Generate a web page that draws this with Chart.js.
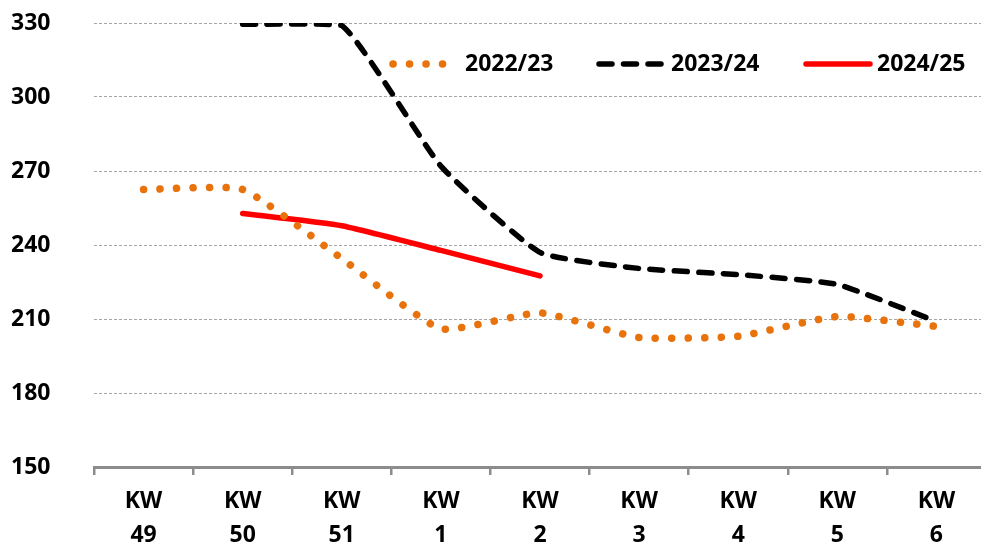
<!DOCTYPE html>
<html>
<head>
<meta charset="utf-8">
<script src="https://cdn.jsdelivr.net/npm/chart.js@4.4.1/dist/chart.umd.min.js"></script>
<style>
  html, body { margin: 0; padding: 0; background: #fff; overflow: hidden; }
  #wrap { width: 990px; height: 547px; }
</style>
</head>
<body>
<div id="wrap"><canvas id="grafica"></canvas></div>
<script>
// Kategorien (Kalenderwochen)
const wochen = [['KW', '49'], ['KW', '50'], ['KW', '51'], ['KW', '1'], ['KW', '2'], ['KW', '3'], ['KW', '4'], ['KW', '5'], ['KW', '6']];

// Werte je Saison
const saison2223 = [262.5, 262.5, 234.5, 206, 212.5, 202.5, 203, 211, 207];
const saison2324 = [null, 329.5, 329, 272, 237, 230.5, 228, 224, 209];
const saison2425 = [null, 252.8, 247.8, 237.8, 227.5, null, null, null, null];

const serien = ['2022/23', '2023/24', '2024/25'];
const yTicks = [150, 180, 210, 240, 270, 300, 330];

const schrift = "'Noto Sans', sans-serif";

// Legende direkt in die Zeichenflaeche malen
const legendePlugin = {
  id: 'legende',
  afterDatasetsDraw(chart) {
    const ctx = chart.ctx;
    const y = 64;
    const pos = [
      { x1: 393, x2: 443, tx: 465 },
      { x1: 599, x2: 664, tx: 671 },
      { x1: 806, x2: 870, tx: 877 }
    ];
    chart.data.datasets.forEach((ds, i) => {
      const p = pos[i];
      ctx.save();
      ctx.strokeStyle = ds.borderColor;
      ctx.lineWidth = ds.borderWidth;
      ctx.lineCap = 'round';
      ctx.setLineDash(ds.borderDash || []);
      ctx.beginPath();
      ctx.moveTo(p.x1, y);
      ctx.lineTo(p.x2, y);
      ctx.stroke();
      ctx.setLineDash([]);
      ctx.fillStyle = '#000';
      ctx.font = 'bold 23px ' + schrift;
      ctx.textBaseline = 'middle';
      ctx.textAlign = 'left';
      ctx.fillText(ds.label, p.tx, y);
      ctx.restore();
    });
  }
};

const ctx = document.getElementById('grafica');
new Chart(ctx, {
  type: 'line',
  data: {
    labels: wochen,
    datasets: [
      {
        label: serien[0],
        data: saison2223,
        borderColor: '#E8720C',
        borderWidth: 7.5,
        borderDash: [0.1, 16.4],
        borderCapStyle: 'round',
        tension: 0.15
      },
      {
        label: serien[1],
        data: saison2324,
        borderColor: '#000000',
        borderWidth: 5.5,
        borderDash: [13, 11.5],
        borderCapStyle: 'round',
        tension: 0.15
      },
      {
        label: serien[2],
        data: saison2425,
        borderColor: '#FF0000',
        borderWidth: 5.5,
        borderCapStyle: 'round',
        tension: 0.15
      }
    ]
  },
  options: {
    responsive: true,
    maintainAspectRatio: false,
    animation: false,
    layout: { padding: { left: 11, right: 4, top: 23, bottom: 0 } },
    elements: { point: { radius: 0 } },
    plugins: {
      legend: { display: false },
      tooltip: { enabled: false }
    },
    scales: {
      x: {
        offset: true,
        grid: {
          offset: true,
          drawOnChartArea: false,
          drawTicks: true,
          tickLength: 8,
          color: '#8c8c8c',
          lineWidth: 2.5
        },
        border: { display: true, color: '#8c8c8c', width: 3 },
        ticks: {
          color: '#000',
          padding: 9,
          maxRotation: 0,
          autoSkip: false,
          font: { family: schrift, size: 23, weight: 'bold', lineHeight: 1.5 }
        },
        afterFit(s) { s.height = 80; }
      },
      y: {
        min: 150,
        max: 330,
        afterBuildTicks(s) { s.ticks = yTicks.map(v => ({ value: v })); },
        grid: {
          drawTicks: false,
          color: '#a6a6a6',
          lineWidth: 1
        },
        border: { display: false, dash: [3, 2] },
        ticks: {
          color: '#000',
          padding: 0,
          crossAlign: 'far',
          font: { family: schrift, size: 23, weight: 'bold' }
        },
        afterFit(s) { s.width = 83; }
      }
    }
  },
  plugins: [legendePlugin]
});
</script>
</body>
</html>
